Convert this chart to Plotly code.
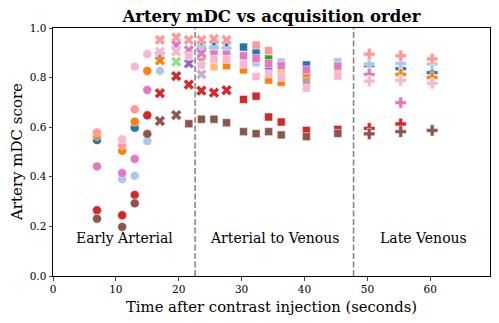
import plotly.graph_objects as go

# ---- data ----
case_names = ["blue", "lightblue", "orange", "lightorange", "green", "lightgreen",
              "red", "lightred", "purple", "lightpurple", "brown", "lightbrown",
              "pink", "lightpink"]
case_colors = ["#1f77b4", "#aec7e8", "#ff7f0e", "#ffbb78", "#2ca02c", "#98df8a",
               "#d62728", "#ff9896", "#9467bd", "#c5b0d5", "#8c564b", "#c49c94",
               "#e377c2", "#f7b6d2"]

# phase codes: o = early arterial, X = late arterial, s = venous, P = late venous
blue_t = [7, 13, 17, 23.6, 25.6, 27.6, 30.3, 32.3, 40.3, 50.3, 55.3, 60.3]
blue_y = [0.548, 0.598, 0.888, 0.929, 0.931, 0.929, 0.923, 0.901, 0.851, 0.848, 0.836, 0.820]
blue_p = ["o", "o", "X", "X", "X", "X", "s", "s", "s", "P", "P", "P"]

lightblue_t = [11, 13, 15, 17, 23.6, 25.6, 27.6, 30.3, 32.3, 34.3, 36.3, 45.3, 50.3, 55.3, 60.3]
lightblue_y = [0.391, 0.404, 0.544, 0.827, 0.918, 0.915, 0.911, 0.871, 0.860, 0.884, 0.863, 0.864, 0.855, 0.857, 0.855]
lightblue_p = ["o", "o", "o", "o", "X", "X", "X", "s", "s", "s", "s", "s", "P", "P", "P"]

orange_t = [7, 11, 13, 15, 17, 27.6, 30.3, 34.3, 36.3, 40.3, 55.3, 60.3]
orange_y = [0.565, 0.505, 0.622, 0.827, 0.869, 0.848, 0.831, 0.790, 0.781, 0.812, 0.813, 0.801]
orange_p = ["o", "o", "o", "o", "X", "s", "s", "s", "s", "s", "P", "P"]

lightorange_t = [25.6, 36.3, 45.3]
lightorange_y = [0.844, 0.821, 0.823]
lightorange_p = ["s", "s", "s"]

green_t = [34.3]
green_y = [0.875]
green_p = ["s"]

lightgreen_t = [19.6]
lightgreen_y = [0.864]
lightgreen_p = ["X"]

red_t = [7, 11, 13, 15, 17, 19.6, 21.6, 23.6, 25.6, 27.6, 30.3, 32.3, 34.3, 36.3, 40.3, 45.3, 50.3, 55.3]
red_y = [0.265, 0.245, 0.327, 0.648, 0.737, 0.806, 0.772, 0.747, 0.739, 0.749, 0.712, 0.725, 0.641, 0.621, 0.587, 0.591, 0.595, 0.613]
red_p = ["o", "o", "o", "o", "X", "X", "X", "X", "X", "X", "s", "s", "s", "s", "s", "s", "P", "P"]

lightred_t = [7, 11, 13, 17, 19.6, 21.6, 23.6, 25.6, 27.6, 32.3, 34.3, 50.3, 55.3, 60.3]
lightred_y = [0.579, 0.528, 0.672, 0.952, 0.962, 0.952, 0.952, 0.956, 0.952, 0.931, 0.909, 0.895, 0.888, 0.875]
lightred_p = ["o", "o", "o", "X", "X", "X", "X", "X", "X", "s", "s", "P", "P", "P"]

purple_t = [21.6, 34.3]
purple_y = [0.857, 0.837]
purple_p = ["X", "s"]

lightpurple_t = [23.6]
lightpurple_y = [0.813]
lightpurple_p = ["X"]

brown_t = [7, 11, 13, 15, 17, 19.6, 21.6, 23.6, 25.6, 27.6, 30.3, 32.3, 34.3, 36.3, 40.3, 45.3, 50.3, 55.3, 60.3]
brown_y = [0.231, 0.198, 0.293, 0.573, 0.625, 0.649, 0.614, 0.632, 0.632, 0.618, 0.582, 0.574, 0.582, 0.569, 0.562, 0.575, 0.573, 0.582, 0.587]
brown_p = ["o", "o", "o", "o", "X", "X", "s", "s", "s", "s", "s", "s", "s", "s", "s", "s", "P", "P", "P"]

lightbrown_t = [23.6, 40.3]
lightbrown_y = [0.867, 0.785]
lightbrown_p = ["X", "s"]

pink_t = [7, 11, 13, 15, 19.6, 21.6, 23.6, 25.6, 27.6, 30.3, 32.3, 34.3, 36.3, 40.3, 45.3, 50.3, 55.3]
pink_y = [0.442, 0.415, 0.472, 0.750, 0.931, 0.911, 0.898, 0.895, 0.894, 0.888, 0.877, 0.857, 0.848, 0.831, 0.846, 0.813, 0.699]
pink_p = ["o", "o", "o", "o", "X", "X", "X", "s", "s", "s", "s", "s", "s", "s", "s", "P", "P"]

lightpink_t = [11, 13, 15, 17, 19.6, 21.6, 23.6, 25.6, 27.6, 30.3, 32.3, 34.3, 36.3, 40.3, 45.3, 50.3, 55.3, 60.3]
lightpink_y = [0.551, 0.844, 0.895, 0.905, 0.905, 0.887, 0.850, 0.874, 0.874, 0.854, 0.804, 0.815, 0.801, 0.757, 0.806, 0.786, 0.789, 0.777]
lightpink_p = ["o", "o", "o", "X", "X", "s", "s", "s", "s", "s", "s", "s", "s", "s", "s", "P", "P", "P"]

phase_boundaries = [22.6, 47.8]
region_labels = ["Early Arterial", "Arterial to Venous", "Late Venous"]
region_label_x = [11.4, 35.2, 59.0]
region_label_y = [0.155, 0.155, 0.155]

x_ticks = [0, 10, 20, 30, 40, 50, 60]
y_ticks = [0.0, 0.2, 0.4, 0.6, 0.8, 1.0]

series = [
    (blue_t, blue_y, blue_p), (lightblue_t, lightblue_y, lightblue_p),
    (orange_t, orange_y, orange_p), (lightorange_t, lightorange_y, lightorange_p),
    (green_t, green_y, green_p), (lightgreen_t, lightgreen_y, lightgreen_p),
    (red_t, red_y, red_p), (lightred_t, lightred_y, lightred_p),
    (purple_t, purple_y, purple_p), (lightpurple_t, lightpurple_y, lightpurple_p),
    (brown_t, brown_y, brown_p), (lightbrown_t, lightbrown_y, lightbrown_p),
    (pink_t, pink_y, pink_p), (lightpink_t, lightpink_y, lightpink_p),
]

symbol_map = {"o": "circle", "X": "x", "s": "square", "P": "cross"}
size_map = {"o": 9, "X": 9.5, "s": 8, "P": 9.5}

FONT = "DejaVu Serif"
# the page body has an 8px margin, so the figure is drawn 8px in from the corner
OFF = 8
W, H = 499 - OFF, 323 - OFF
ML, MR, MT, MB = 53 - OFF, 9, 28 - OFF, 47
PW, PH = W - ML - MR, H - MT - MB

fig = go.Figure()
for name, color, (ts, ys, ps) in zip(case_names, case_colors, series):
    fig.add_trace(go.Scatter(
        x=ts, y=ys, mode="markers", name=name, showlegend=False, opacity=1,
        marker=dict(color=color, opacity=1,
                    symbol=[symbol_map[p] for p in ps],
                    size=[size_map[p] for p in ps],
                    line=dict(color="white", width=0.5)),
    ))

for xb in phase_boundaries:
    fig.add_shape(type="line", xref="x", yref="paper", x0=xb, x1=xb, y0=0, y1=1,
                  line=dict(color="#808080", width=1.5, dash="6px,2.5px"), layer="below")

for lbl, lx, ly in zip(region_labels, region_label_x, region_label_y):
    fig.add_annotation(x=lx, y=ly, xref="x", yref="y", text=lbl, showarrow=False,
                       font=dict(family=FONT, size=14, color="black"),
                       xanchor="center", yanchor="middle")

# axis titles placed as annotations for precise positioning (target page pixels)
fig.add_annotation(x=0.5, y=-(306 - OFF - (MT + PH)) / PH, xref="paper", yref="paper",
                   text="Time after contrast injection (seconds)", showarrow=False,
                   font=dict(family=FONT, size=14.8, color="black"),
                   xanchor="center", yanchor="middle")
fig.add_annotation(x=(17 - OFF - ML) / PW, y=0.5, xref="paper", yref="paper",
                   text="Artery mDC score", showarrow=False, textangle=-90,
                   font=dict(family=FONT, size=15, color="black"),
                   xanchor="center", yanchor="middle")

fig.update_layout(
    width=W, height=H,
    margin=dict(l=ML, r=MR, t=MT, b=MB, autoexpand=False),
    paper_bgcolor="white", plot_bgcolor="white",
    font=dict(family=FONT, color="black"),
    title=dict(text="<b>Artery mDC vs acquisition order</b>", x=(ML + PW / 2) / W, xref="container",
               y=1 - (16.3 - OFF) / H, yref="container", xanchor="center", yanchor="middle",
               font=dict(family=FONT, size=16.5, color="black")),
)
fig.update_xaxes(range=[0, 69.5], tickvals=x_ticks, ticktext=[str(v) for v in x_ticks],
                 showgrid=False, zeroline=False, showline=True, linecolor="black",
                 linewidth=1, mirror=True, ticks="outside", ticklen=3.5, tickwidth=1,
                 automargin=False,
                 tickfont=dict(family=FONT, size=10.5, color="black"))
fig.update_yaxes(range=[0, 1], tickvals=y_ticks, ticktext=[f"{v:.1f}" for v in y_ticks],
                 showgrid=False, zeroline=False, showline=True, linecolor="black",
                 linewidth=1, mirror=True, ticks="outside", ticklen=3.5, tickwidth=1,
                 automargin=False,
                 tickfont=dict(family=FONT, size=10.5, color="black"))

fig.write_html("out.html")
